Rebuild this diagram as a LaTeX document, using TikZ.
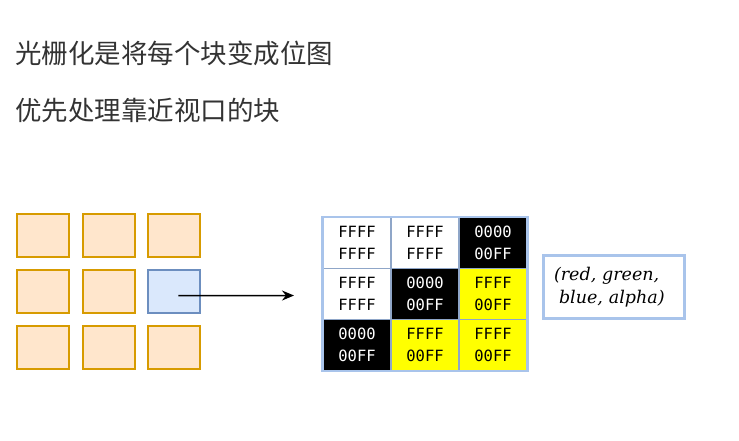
\documentclass[tikz,border=0pt]{standalone}
\usepackage{fontspec}
\newfontfamily\cjk{Noto Sans CJK SC}
\newfontfamily\hexfont{DejaVu Sans Mono}
\newfontfamily\fmtfont{DejaVu Serif}
\usetikzlibrary{arrows.meta}
\definecolor{tilefill}{HTML}{FFE6CC}
\definecolor{tileline}{HTML}{D79B00}
\definecolor{selfill}{HTML}{DAE8FC}
\definecolor{selline}{HTML}{6C8EBF}
\definecolor{gridline}{HTML}{A9C4EB}
\definecolor{cellline}{HTML}{8FA6C8}
\definecolor{pixyellow}{HTML}{FFFF00}
\definecolor{titlegray}{HTML}{333333}

\begin{document}
\begin{tikzpicture}[x=1pt,y=-1pt,
  title/.style={anchor=west,inner sep=0pt,text=titlegray,font=\cjk\fontsize{26.5}{30}\selectfont},
  tile/.style={draw=tileline,fill=tilefill,line width=2pt,minimum width=52pt,minimum height=43pt,inner sep=0pt},
  sel/.style={tile,draw=selline,fill=selfill},
  cell/.style={draw=cellline,line width=1.3pt,minimum width=68pt,minimum height=51pt,inner sep=0pt,align=center,
    font=\hexfont\fontsize{15.5}{21.5}\selectfont},
  white px/.style={cell,fill=white,text=black},
  black px/.style={cell,fill=black,text=white},
  yellow px/.style={cell,fill=pixyellow,text=black},
  fmtbox/.style={draw=gridline,line width=3pt,minimum width=141pt,minimum height=63pt,
    text width=120pt,inner xsep=10.5pt,align=left,
    font=\fmtfont\itshape\fontsize{17.5}{23}\selectfont}]
\useasboundingbox (0,0) rectangle (739,441);

\node[title] (rast) at (15,53) {光栅化是将每个块变成位图};
\node[title] (near) at (15,110) {优先处理靠近视口的块};

% tiles
\foreach \i in {0,1,2}
 \foreach \j in {0,1,2} {
  \ifnum\i\j=21 \def\s{sel}\else\def\s{tile}\fi
  \node[\s] (t\i\j) at (43+65.7*\i,235.5+56.2*\j) {};
 }

\coordinate (tip) at (294,295.5);
\draw[-{Stealth[length=12pt,width=10pt]},line width=1.5pt] ([shift={(4,4)}]t21.center) -- (tip);

% bitmap
\foreach \i in {0,1,2}
 \foreach \j in {0,1,2} {
  \pgfmathtruncatemacro\k{\i+\j}
  \ifnum\k<2
   \node[white px] (c\i\j) at (357+68*\i,243+51*\j) {FFFF\\FFFF};
  \else\ifnum\k=2
   \node[black px] (c\i\j) at (357+68*\i,243+51*\j) {0000\\00FF};
  \else
   \node[yellow px] (c\i\j) at (357+68*\i,243+51*\j) {FFFF\\00FF};
  \fi\fi
 }
\draw[gridline,line width=2.5pt] (c00.north west) rectangle (c22.south east);

\node[fmtbox] (rgba) at (614,287) {(red, green,\\\hspace*{5pt}blue, alpha)};

\end{tikzpicture}
\end{document}
